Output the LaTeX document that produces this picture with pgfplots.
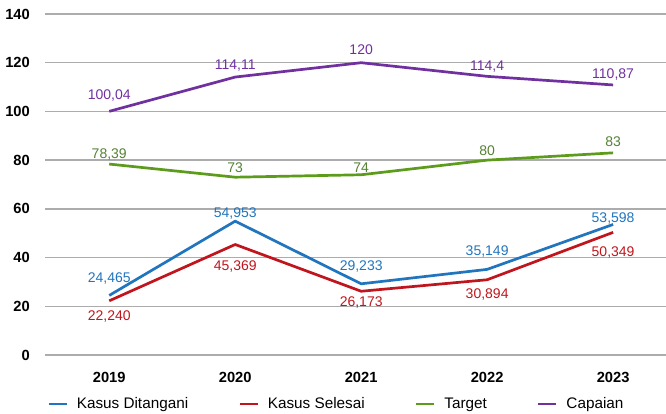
\documentclass[border=0pt]{standalone}
\usepackage{pgfplots}
\pgfplotsset{compat=1.18}
\usepackage{pgfplotstable}
\usepackage{fontspec}
\setmainfont{Liberation Sans}

\definecolor{cblue}{RGB}{33,117,190}
\definecolor{cred}{RGB}{192,21,28}
\definecolor{cgreen}{RGB}{92,155,27}
\definecolor{cgreenlab}{RGB}{84,130,53}
\definecolor{cpurple}{RGB}{112,48,160}
\definecolor{cgrid}{RGB}{172,172,172}
\definecolor{czero}{RGB}{140,140,140}

% x = year index, lab = printed label, dy = label offset (pt)
\pgfplotstableread{
x y lab dy
0 24.465 24,465 18
1 54.953 54,953 9
2 29.233 29,233 18
3 35.149 35,149 19
4 53.598 53,598 7
}\ditangani
\pgfplotstableread{
x y lab dy
0 22.240 22,240 -15
1 45.369 45,369 -21
2 26.173 26,173 -10
3 30.894 30,894 -14
4 50.349 50,349 -19
}\selesai
\pgfplotstableread{
x y lab dy
0 78.39 78,39 11
1 73 73 10
2 74 74 7
3 80 80 10
4 83 83 11
}\target
\pgfplotstableread{
x y lab dy
0 100.04 100,04 17
1 114.11 114,11 13
2 120 120 13
3 114.4 114,4 11
4 110.87 110,87 11
}\capaian

\pgfplotsset{
  lbl/.style={
    nodes near coords, point meta=explicit symbolic,
    visualization depends on={\thisrow{dy}\as\dy},
    every node near coord/.append style={anchor=center, yshift=\dy,
      inner sep=0pt, text height=10pt, text depth=0pt,
      font=\fontsize{14}{15}\selectfont, text=#1}},
  ln/.style={#1, line width=2.7pt, line join=round, mark=none},
}

\begin{document}
\begin{tikzpicture}
\begin{axis}[
  scale only axis, width=621pt, height=341pt,
  xmin=-0.51, xmax=4.42, ymin=0, ymax=140,
  xtick={0,1,2,3,4}, xticklabels={2019,2020,2021,2022,2023},
  ytick={0,20,...,140},
  axis line style={draw=none}, major tick length=0pt,
  ymajorgrids, major grid style={cgrid, line width=1.3pt},
  extra y ticks={0}, extra y tick labels={},
  extra y tick style={grid style={czero, line width=1.8pt}},
  ticklabel style={font=\fontsize{14.7}{16}\selectfont\bfseries, inner sep=0pt},
  /pgf/number format/assume math mode=true,
  yticklabel style={anchor=east, xshift=-15pt},
  xticklabel style={anchor=north, text height=10.5pt, text depth=0pt, yshift=-17pt},
  legend columns=4,
  legend style={at={(0,0)}, anchor=west, xshift=2pt, yshift=-49pt,
    draw=none, fill=none, inner sep=0pt,
    font=\fontsize{15.3}{17}\selectfont,
    nodes={inner sep=0pt},
    /tikz/every odd column/.append style={column sep=9pt},
    /tikz/every even column/.append style={column sep=50pt}},
  legend image code/.code={\draw[#1, line width=2.6pt] (0pt,0pt) -- (18pt,0pt);},
  clip=false,
]
\addplot[ln=cblue, lbl=cblue] table[x=x, y=y, meta=lab] {\ditangani};
\addlegendentry{Kasus Ditangani}
\addplot[ln=cred, lbl=cred] table[x=x, y=y, meta=lab] {\selesai};
\addlegendentry{Kasus Selesai}
\addplot[ln=cgreen, lbl=cgreenlab] table[x=x, y=y, meta=lab] {\target};
\addlegendentry{Target}
\addplot[ln=cpurple, lbl=cpurple] table[x=x, y=y, meta=lab] {\capaian};
\addlegendentry{Capaian}
\end{axis}
\pgfresetboundingbox
\path[use as bounding box] (-45pt,-58pt) rectangle (621pt,355pt);
\end{tikzpicture}
\end{document}
